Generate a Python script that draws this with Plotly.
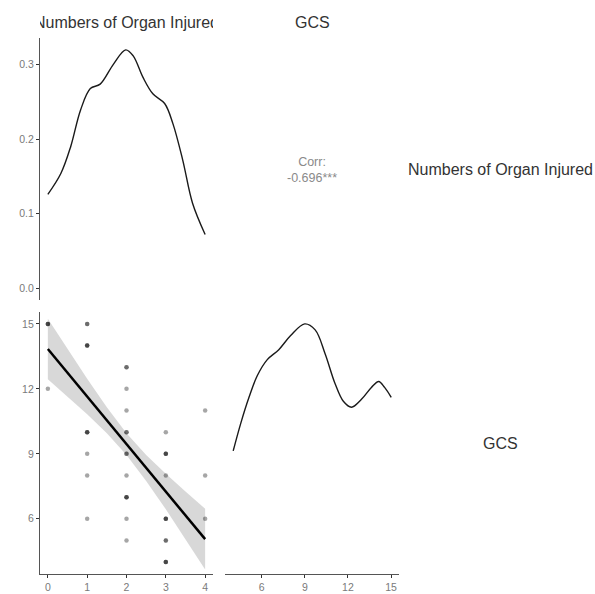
import plotly.graph_objects as go

W, H = 595, 594

# ---- data ----
organ_dens_x = [0, 0.33, 0.58, 0.83, 1.08, 1.33, 1.67, 1.98, 2.17, 2.42, 2.67, 2.97, 3.18, 3.43, 3.68, 4.0]
organ_dens_y = [0.126, 0.154, 0.19, 0.239, 0.268, 0.274, 0.301, 0.320, 0.312, 0.283, 0.261, 0.248, 0.221, 0.172, 0.114, 0.072]

gcs_dens_x = [4.02, 4.55, 5.12, 5.70, 6.39, 7.19, 8.0, 8.99, 9.72, 10.41, 11.10, 11.68, 12.25, 12.94, 13.63, 14.14, 14.55, 15.01]
gcs_dens_y = [0.056, 0.070, 0.083, 0.094, 0.102, 0.107, 0.114, 0.120, 0.117, 0.105, 0.090, 0.081, 0.078, 0.082, 0.088, 0.091, 0.088, 0.083]

# scatter: (organs, gcs, count of overlapping points)
pts_organ = [0, 0, 1, 1, 1, 1, 1, 1, 2, 2, 2, 2, 2, 2, 2, 2, 2, 3, 3, 3, 3, 3, 3, 4, 4, 4]
pts_gcs = [15, 12, 15, 14, 10, 9, 8, 6, 13, 12, 11, 10, 9, 8, 7, 6, 5, 10, 9, 8, 6, 5, 4, 11, 8, 6]
pts_count = [3, 1, 2, 3, 3, 1, 1, 1, 2, 1, 1, 2, 2, 1, 3, 1, 1, 1, 3, 1, 3, 2, 3, 1, 1, 1]

fit_x = [0, 0.5, 1, 1.5, 2, 2.5, 3, 3.5, 4]
fit_y = [13.84, 12.74, 11.65, 10.55, 9.45, 8.35, 7.26, 6.16, 5.06]
band_lo = [12.44, 11.64, 10.83, 9.95, 8.95, 7.75, 6.44, 5.06, 3.66]
band_hi = [15.24, 13.84, 12.47, 11.15, 9.95, 8.95, 8.08, 7.26, 6.46]

var_names = ["Numbers of Organ Injured", "GCS"]
corr_text = "Corr:<br>-0.696***"

# ---- layout geometry (pixels) ----
col1 = (40, 213)
col2 = (225, 399)
row1 = (38, 300)
row2 = (312, 574)

def xd(c):
    return [c[0] / W, c[1] / W]

def yd(r):
    return [1 - r[1] / H, 1 - r[0] / H]

fig = go.Figure()

# top-left density
fig.add_trace(go.Scatter(x=organ_dens_x, y=organ_dens_y, mode="lines",
                         line=dict(color="#1a1a1a", width=1.4, shape="spline"),
                         xaxis="x", yaxis="y", showlegend=False))

# bottom-left: band, points, line
fig.add_trace(go.Scatter(x=fit_x + fit_x[::-1], y=band_hi + band_lo[::-1], mode="lines",
                         fill="toself", fillcolor="rgba(190,190,190,0.6)",
                         line=dict(width=0), xaxis="x3", yaxis="y3", showlegend=False))
ex, ey = [], []
for xv, yv, c in zip(pts_organ, pts_gcs, pts_count):
    ex += [xv] * c
    ey += [yv] * c
fig.add_trace(go.Scatter(x=ex, y=ey, mode="markers",
                         marker=dict(color="rgba(0,0,0,0.35)", size=4.5, line=dict(width=0)),
                         xaxis="x3", yaxis="y3", showlegend=False))
fig.add_trace(go.Scatter(x=fit_x, y=fit_y, mode="lines",
                         line=dict(color="#000000", width=2.5),
                         xaxis="x3", yaxis="y3", showlegend=False))

# bottom-right density
fig.add_trace(go.Scatter(x=gcs_dens_x, y=gcs_dens_y, mode="lines",
                         line=dict(color="#1a1a1a", width=1.4, shape="spline"),
                         xaxis="x4", yaxis="y4", showlegend=False))

axis_line = dict(showline=True, linecolor="#555555", linewidth=1.3, ticks="outside",
                 ticklen=3, tickwidth=1.3, tickcolor="#333333", showgrid=False, zeroline=False,
                 tickfont=dict(family="Liberation Sans, Arial, sans-serif", size=10.5, color="#7a7a7a"),
                 automargin=False)

fig.update_layout(
    width=W, height=H, margin=dict(l=0, r=0, t=0, b=0),
    paper_bgcolor="white", plot_bgcolor="white",
    xaxis=dict(domain=xd(col1), range=[-0.2, 4.2], visible=False, anchor="y"),
    yaxis=dict(domain=yd(row1), range=[-0.016, 0.336], anchor="x",
               tickvals=[0, 0.1, 0.2, 0.3], ticktext=["0.0", "0.1", "0.2", "0.3"], **axis_line),
    xaxis3=dict(domain=xd(col1), range=[-0.2, 4.2], anchor="y3",
                tickvals=[0, 1, 2, 3, 4], **axis_line),
    yaxis3=dict(domain=yd(row2), range=[3.45, 15.55], anchor="x3",
                tickvals=[6, 9, 12, 15], **axis_line),
    xaxis4=dict(domain=xd(col2), range=[3.45, 15.55], anchor="y4",
                tickvals=[6, 9, 12, 15], **axis_line),
    yaxis4=dict(domain=yd(row2), range=[-0.006, 0.126], anchor="x4", visible=False),
)

lab_font = dict(family="Liberation Sans, Arial, sans-serif", size=16, color="#333333")

# column titles
fig.add_annotation(text=var_names[0], x=(col1[0] + col1[1]) / 2 / W, y=1 - 23 / H,
                   xref="paper", yref="paper", showarrow=False, font=lab_font,
                   width=col1[1] - col1[0], xanchor="center", yanchor="middle")
fig.add_annotation(text=var_names[1], x=(col2[0] + col2[1]) / 2 / W, y=1 - 23 / H,
                   xref="paper", yref="paper", showarrow=False, font=lab_font,
                   xanchor="center", yanchor="middle")
# row labels
fig.add_annotation(text=var_names[0], x=500 / W, y=1 - 170 / H,
                   xref="paper", yref="paper", showarrow=False, font=lab_font,
                   xanchor="center", yanchor="middle")
fig.add_annotation(text=var_names[1], x=500 / W, y=1 - 443 / H,
                   xref="paper", yref="paper", showarrow=False, font=lab_font,
                   xanchor="center", yanchor="middle")
# correlation
fig.add_annotation(text=corr_text, x=312 / W, y=1 - 170 / H,
                   xref="paper", yref="paper", showarrow=False,
                   font=dict(family="Liberation Sans, Arial, sans-serif", size=12.5, color="#8a8a8a"),
                   xanchor="center", yanchor="middle")

fig.write_html("out.html", config={"displayModeBar": False},
               post_script="document.body.style.margin='0px';document.body.style.padding='0px';")
